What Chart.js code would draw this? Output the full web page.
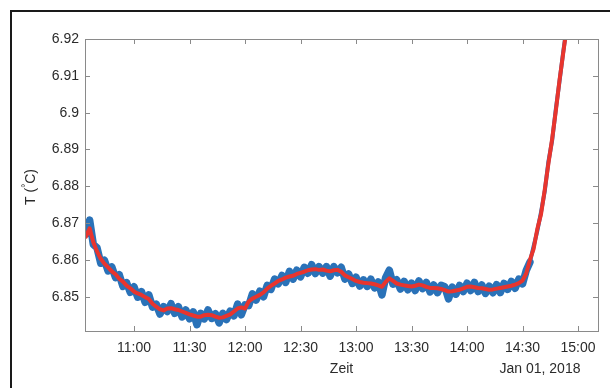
<!DOCTYPE html>
<html>
<head>
<meta charset="utf-8">
<script src="https://cdn.jsdelivr.net/npm/chart.js@4"></script>
<style>
  html, body { margin: 0; padding: 0; background: #fff; }
  #chart { display: block; }
</style>
</head>
<body>
<canvas id="chart" width="610" height="388"></canvas>
<script>
    "use strict";

    // Sampling: minutes since midnight, every 2 minutes from 10:34
    var startMinute = 634;
    var stepMinutes = 2;

    // Raw measurement (blue)
    var rawTemp = [
        6.8671, 6.8708, 6.8642, 6.8633, 6.8591, 6.8599, 6.8570, 6.8581, 6.8552, 6.8560,
        6.8528, 6.8538, 6.8512, 6.8527, 6.8499, 6.8514, 6.8485, 6.8505, 6.8472, 6.8480,
        6.8453, 6.8473, 6.8460, 6.8481, 6.8455, 6.8473, 6.8445, 6.8464, 6.8440, 6.8459,
        6.8424, 6.8455, 6.8440, 6.8464, 6.8441, 6.8454, 6.8429, 6.8455, 6.8438, 6.8461,
        6.8448, 6.8480, 6.8451, 6.8478, 6.8476, 6.8508, 6.8491, 6.8515, 6.8500, 6.8531,
        6.8520, 6.8548, 6.8535, 6.8558, 6.8539, 6.8569, 6.8548, 6.8572, 6.8554, 6.8580,
        6.8564, 6.8587, 6.8563, 6.8582, 6.8564, 6.8582, 6.8556, 6.8582, 6.8565, 6.8580,
        6.8548, 6.8562, 6.8536, 6.8553, 6.8529, 6.8546, 6.8528, 6.8548, 6.8524, 6.8540,
        6.8505, 6.8552, 6.8572, 6.8534, 6.8546, 6.8521, 6.8542, 6.8519, 6.8537, 6.8517,
        6.8543, 6.8522, 6.8539, 6.8513, 6.8532, 6.8511, 6.8531, 6.8527, 6.8494, 6.8526,
        6.8507, 6.8531, 6.8514, 6.8537, 6.8517, 6.8539, 6.8514, 6.8532, 6.8509, 6.8529,
        6.8511, 6.8533, 6.8511, 6.8536, 6.8520, 6.8542, 6.8523, 6.8548, 6.8535, 6.8571,
        6.8594, 6.8637, 6.8679, 6.8730, 6.8786, 6.8867, 6.8924, 6.9009, 6.9085, 6.9165,
        6.9236
    ];

    // Smoothed curve (red)
    var smoothTemp = [
        6.8663, 6.8686, 6.8648, 6.8623, 6.8603, 6.8590, 6.8580, 6.8569, 6.8561, 6.8549,
        6.8541, 6.8530, 6.8523, 6.8514, 6.8509, 6.8505, 6.8499, 6.8494, 6.8481, 6.8473,
        6.8466, 6.8463, 6.8468, 6.8469, 6.8466, 6.8464, 6.8460, 6.8456, 6.8452, 6.8449,
        6.8446, 6.8446, 6.8450, 6.8451, 6.8450, 6.8446, 6.8443, 6.8444, 6.8448, 6.8452,
        6.8460, 6.8468, 6.8471, 6.8468, 6.8487, 6.8495, 6.8500, 6.8505, 6.8512, 6.8522,
        6.8530, 6.8536, 6.8543, 6.8547, 6.8552, 6.8555, 6.8557, 6.8562, 6.8565, 6.8568,
        6.8572, 6.8574, 6.8575, 6.8573, 6.8574, 6.8571, 6.8569, 6.8572, 6.8573, 6.8568,
        6.8558, 6.8553, 6.8548, 6.8543, 6.8540, 6.8538, 6.8537, 6.8536, 6.8534, 6.8531,
        6.8527, 6.8540, 6.8550, 6.8543, 6.8536, 6.8533, 6.8531, 6.8529, 6.8528, 6.8530,
        6.8533, 6.8531, 6.8527, 6.8524, 6.8524, 6.8523, 6.8521, 6.8518, 6.8514, 6.8515,
        6.8517, 6.8519, 6.8523, 6.8527, 6.8528, 6.8526, 6.8524, 6.8523, 6.8521, 6.8519,
        6.8520, 6.8522, 6.8524, 6.8526, 6.8528, 6.8530, 6.8533, 6.8537, 6.8544, 6.8563,
        6.8600, 6.8630, 6.8684, 6.8724, 6.8790, 6.8862, 6.8928, 6.9005, 6.9088, 6.9162,
        6.9236
    ];

    // Axis ticks
    var xTicks = [660, 690, 720, 750, 780, 810, 840, 870, 900];
    var yTicks = [6.85, 6.86, 6.87, 6.88, 6.89, 6.9, 6.91, 6.92];

    var axisColor = '#8a8a8a';
    var textColor = '#2b2b2b';
    var fontFamily = '"Liberation Sans", Arial, Helvetica, sans-serif';

    function toPoints(values) {
        return values.map(function (v, i) {
            return { x: startMinute + i * stepMinutes, y: v };
        });
    }

    function fmtTime(m) {
        var h = Math.floor(m / 60);
        var mm = Math.round(m - h * 60);
        return h + ':' + (mm < 10 ? '0' + mm : mm);
    }

    // Box, inward ticks, labels and figure frame (MATLAB look)
    var decorations = {
        id: 'decorations',
        afterDatasetsDraw: function (chart) {
            var ctx = chart.ctx;
            var a = chart.chartArea;
            var xs = chart.scales.x, ys = chart.scales.y;
            ctx.save();

            ctx.strokeStyle = axisColor;
            ctx.lineWidth = 1;
            ctx.strokeRect(a.left + 0.5, a.top + 0.5, a.right - a.left, a.bottom - a.top);

            ctx.beginPath();
            xTicks.forEach(function (t) {
                var px = Math.round(xs.getPixelForValue(t)) + 0.5;
                ctx.moveTo(px, a.bottom); ctx.lineTo(px, a.bottom - 5);
                ctx.moveTo(px, a.top); ctx.lineTo(px, a.top + 5);
            });
            yTicks.forEach(function (t) {
                var py = Math.round(ys.getPixelForValue(t)) + 0.5;
                ctx.moveTo(a.left, py); ctx.lineTo(a.left + 5, py);
                ctx.moveTo(a.right, py); ctx.lineTo(a.right - 5, py);
            });
            ctx.stroke();

            ctx.fillStyle = textColor;
            ctx.font = '14px ' + fontFamily;
            ctx.textAlign = 'center';
            ctx.textBaseline = 'middle';
            ctx.fillText('Zeit', (a.left + a.right) / 2, 369);
            ctx.fillText('Jan 01, 2018', 540, 369);

            // y title: T (°C) with raised degree sign
            ctx.translate(35, 187);
            ctx.rotate(-Math.PI / 2);
            ctx.textBaseline = 'alphabetic';
            ctx.textAlign = 'left';
            var p1 = 'T (', p3 = 'C)';
            ctx.font = '14px ' + fontFamily;
            var w1 = ctx.measureText(p1).width;
            var w3 = ctx.measureText(p3).width;
            ctx.font = '10px ' + fontFamily;
            var w2 = ctx.measureText('°').width;
            var x0 = -(w1 + w2 + w3) / 2;
            ctx.font = '14px ' + fontFamily;
            ctx.fillText(p1, x0, 0);
            ctx.font = '10px ' + fontFamily;
            ctx.fillText('°', x0 + w1, -6);
            ctx.font = '14px ' + fontFamily;
            ctx.fillText(p3, x0 + w1 + w2, 0);
            ctx.setTransform(1, 0, 0, 1, 0, 0);

            // figure frame
            ctx.strokeStyle = '#1a1a1a';
            ctx.lineWidth = 2;
            ctx.beginPath();
            ctx.moveTo(11, 388); ctx.lineTo(11, 11); ctx.lineTo(610, 11);
            ctx.stroke();

            ctx.restore();
        }
    };

    var ctx = document.getElementById('chart').getContext('2d');
    new Chart(ctx, {
        type: 'line',
        data: {
            datasets: [{
                label: 'Messung',
                data: toPoints(smoothTemp),
                borderColor: '#e8352e',
                borderWidth: 4,
                borderJoinStyle: 'round',
                borderCapStyle: 'round',
                pointRadius: 0,
                tension: 0,
                clip: 0,
                order: 0
            }, {
                label: 'Rohdaten',
                data: toPoints(rawTemp),
                borderColor: '#2a72b8',
                borderWidth: 7.5,
                borderJoinStyle: 'round',
                borderCapStyle: 'round',
                pointRadius: 0,
                tension: 0,
                clip: 0,
                order: 1,
                segment: {
                    // the raw trace hides behind the red one on the steep rise
                    borderWidth: function (c) { return c.p0.parsed.x >= 874 ? 4 : 7.5; }
                }
            }]
        },
        options: {
            responsive: false,
            animation: false,
            events: [],
            layout: { padding: { left: 0, right: 12, top: 39, bottom: 0 } },
            plugins: {
                legend: { display: false },
                tooltip: { enabled: false }
            },
            scales: {
                x: {
                    type: 'linear',
                    min: 633.5,
                    max: 910.8,
                    grid: { display: false, drawTicks: false },
                    border: { display: false },
                    afterBuildTicks: function (scale) {
                        scale.ticks = xTicks.map(function (v) { return { value: v }; });
                    },
                    afterFit: function (scale) { scale.height = 57; },
                    ticks: {
                        autoSkip: false,
                        maxRotation: 0,
                        padding: 9,
                        color: textColor,
                        font: { family: fontFamily, size: 14 },
                        callback: function (v) { return fmtTime(v); }
                    }
                },
                y: {
                    min: 6.8407,
                    max: 6.92,
                    grid: { display: false, drawTicks: false },
                    border: { display: false },
                    afterBuildTicks: function (scale) {
                        scale.ticks = yTicks.map(function (v) { return { value: v }; });
                    },
                    afterFit: function (scale) { scale.width = 85; },
                    ticks: {
                        padding: 6,
                        color: textColor,
                        font: { family: fontFamily, size: 14 },
                        callback: function (v) { return String(parseFloat(v.toFixed(2))); }
                    }
                }
            }
        },
        plugins: [decorations]
    });
</script>
</body>
</html>
